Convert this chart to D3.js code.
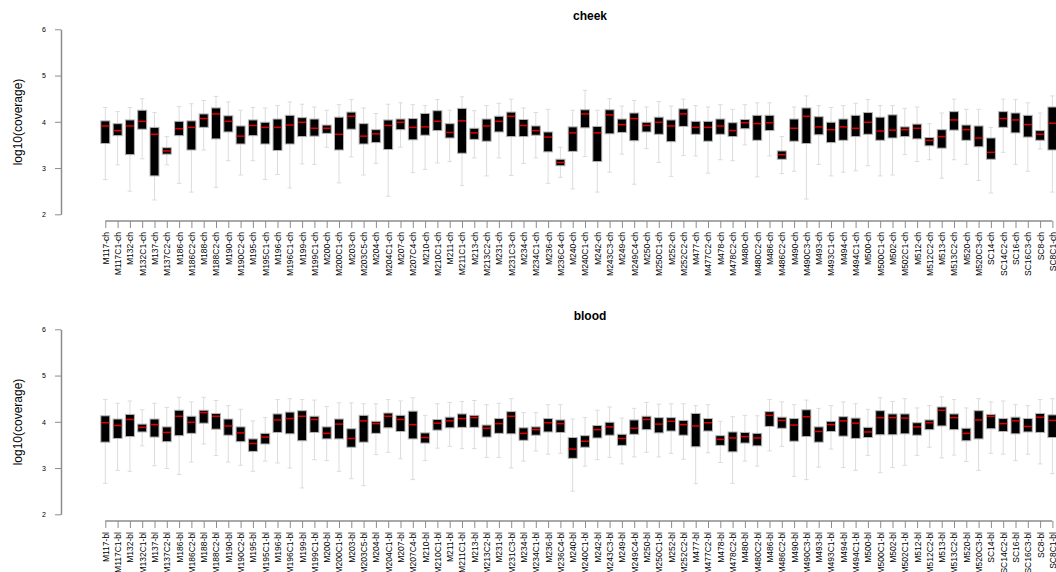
<!DOCTYPE html>
<html>
<head>
<meta charset="utf-8">
<script src="https://cdn.jsdelivr.net/npm/d3@7"></script>
<style>
  body { margin: 0; background: #fff; }
  svg { display: block; font-family: "Liberation Sans", Arial, sans-serif; }
</style>
</head>
<body>
<svg id="chart" width="1056" height="572"></svg>
<script>
// Sample identifiers (suffix added per tissue panel)
const samples = [
  "M117","M117C1","M132","M132C1","M137","M137C2","M186","M186C2","M188","M188C2",
  "M190","M190C2","M195","M195C1","M196","M196C1","M199","M199C1","M200","M200C1",
  "M203","M203C5","M204","M204C1","M207","M207C4","M210","M210C1","M211","M211C1",
  "M213","M213C2","M231","M231C3","M234","M234C1","M236","M236C4","M240","M240C1",
  "M242","M243C3","M249","M249C4","M250","M250C1","M252","M252C2","M477","M477C2",
  "M478","M478C2","M480","M480C2","M486","M486C2","M490","M490C3","M493","M493C1",
  "M494","M494C1","M500","M500C1","M502","M502C1","M512","M512C2","M513","M513C2",
  "M520","M520C3","SC14","SC14C2","SC16","SC16C3","SC8","SC8C1"
];

const yTicks = [2, 3, 4, 5, 6];

// cheek: log10(coverage) five-number summaries
const cheekHigh = [4.31,4.22,4.31,4.50,4.20,3.68,4.33,4.39,4.46,4.55,4.43,4.25,4.31,4.30,4.35,4.43,4.38,4.32,4.25,4.37,
  4.48,4.30,4.18,4.38,4.41,4.37,4.35,4.48,4.25,4.54,4.24,4.35,4.40,4.49,4.30,4.20,4.27,3.45,4.25,4.68,
  4.25,4.50,4.34,4.46,4.32,4.44,4.34,4.49,4.35,4.32,4.37,4.27,4.37,4.41,4.41,3.68,4.32,4.56,4.35,4.31,
  4.35,4.40,4.48,4.35,4.35,4.29,4.32,3.96,4.19,4.49,4.27,4.27,3.88,4.49,4.48,4.41,4.19,4.56];
const cheekQ3 = [4.02,3.96,4.04,4.25,3.88,3.44,4.01,4.02,4.17,4.30,4.13,3.91,4.04,3.99,4.06,4.14,4.09,4.06,3.93,4.10,
  4.21,3.96,3.83,4.04,4.06,4.07,4.18,4.24,3.96,4.29,3.86,4.06,4.12,4.21,4.05,3.91,3.78,3.19,3.89,4.26,
  3.90,4.26,4.06,4.19,3.99,4.10,4.04,4.28,4.01,4.01,4.06,3.98,4.05,4.14,4.14,3.37,4.06,4.30,4.11,3.99,
  4.06,4.14,4.20,4.10,4.15,3.89,3.95,3.66,3.83,4.22,3.93,3.91,3.65,4.22,4.19,4.14,3.81,4.32];
const cheekMed = [3.91,3.81,3.91,4.01,3.73,3.37,3.85,3.88,4.07,4.17,4.01,3.69,3.92,3.88,3.88,3.93,3.99,3.86,3.86,3.73,
  4.12,3.69,3.74,3.92,3.99,3.88,3.89,4.01,3.77,4.02,3.76,3.91,4.01,4.12,3.92,3.81,3.67,3.12,3.76,4.17,
  3.76,4.15,3.94,4.07,3.92,3.99,3.91,4.17,3.88,3.88,3.91,3.81,3.98,3.96,3.98,3.29,3.86,4.12,3.89,3.83,
  3.89,3.86,3.99,3.80,3.82,3.83,3.86,3.60,3.68,4.04,3.83,3.65,3.34,4.07,4.04,3.94,3.73,3.97];
const cheekQ1 = [3.53,3.70,3.29,3.84,2.83,3.30,3.70,3.39,3.88,3.63,3.78,3.52,3.70,3.52,3.38,3.52,3.68,3.69,3.75,3.39,
  3.84,3.52,3.55,3.40,3.83,3.61,3.71,3.81,3.65,3.32,3.62,3.58,3.78,3.68,3.68,3.71,3.35,3.05,3.36,3.87,
  3.14,3.74,3.77,3.59,3.78,3.73,3.57,3.90,3.73,3.58,3.73,3.68,3.85,3.60,3.81,3.19,3.58,3.53,3.72,3.55,
  3.60,3.68,3.73,3.60,3.65,3.68,3.63,3.48,3.43,3.82,3.60,3.46,3.19,3.88,3.76,3.67,3.60,3.39];
const cheekLow = [2.75,3.07,2.50,3.20,2.31,3.07,2.67,2.48,3.39,2.58,3.16,2.85,3.16,2.75,2.86,2.57,3.09,3.08,3.45,2.68,
  3.24,2.85,3.10,2.39,3.45,2.90,2.97,3.11,3.14,2.62,3.22,2.83,3.22,2.84,3.10,3.22,2.67,2.80,2.55,3.25,
  2.48,2.91,3.30,2.65,3.42,3.12,2.82,3.27,3.26,2.89,3.18,3.16,3.50,2.81,3.26,2.88,2.93,2.33,3.08,2.83,
  2.91,2.94,3.05,2.83,2.85,3.29,3.14,3.18,2.78,3.18,3.08,2.73,2.46,3.34,3.08,2.93,3.41,2.48];

// blood: log10(coverage) five-number summaries
const bloodHigh = [4.48,4.40,4.45,4.26,4.40,4.31,4.53,4.43,4.53,4.46,4.35,4.27,4.02,4.09,4.48,4.50,4.48,4.47,4.33,4.41,
  4.41,4.39,4.39,4.48,4.45,4.52,4.14,4.39,4.42,4.44,4.46,4.37,4.40,4.50,4.20,4.20,4.37,4.37,4.06,4.09,
  4.25,4.32,4.08,4.29,4.42,4.38,4.39,4.39,4.35,4.37,4.01,4.11,4.14,4.13,4.48,4.43,4.37,4.47,4.29,4.35,
  4.43,4.39,4.27,4.52,4.44,4.50,4.30,4.35,4.54,4.48,4.30,4.50,4.43,4.45,4.37,4.35,4.48,4.50];
const bloodQ3 = [4.13,4.06,4.16,3.95,4.06,3.89,4.25,4.12,4.25,4.18,4.06,3.89,3.63,3.75,4.17,4.21,4.24,4.12,3.89,4.06,
  3.85,4.14,4.01,4.19,4.14,4.23,3.76,4.05,4.10,4.17,4.14,3.93,4.07,4.22,3.87,3.89,4.07,4.04,3.66,3.70,
  3.92,3.99,3.73,4.04,4.12,4.09,4.09,4.03,4.18,4.07,3.70,3.78,3.77,3.75,4.22,4.10,4.07,4.26,3.89,4.01,
  4.11,4.08,3.88,4.24,4.17,4.17,3.98,4.04,4.32,4.17,3.86,4.24,4.16,4.07,4.10,4.07,4.18,4.15];
const bloodMed = [3.98,3.92,4.05,3.88,3.94,3.77,4.12,3.99,4.20,4.12,3.91,3.76,3.53,3.67,4.04,4.07,4.12,4.05,3.75,3.95,
  3.64,4.02,3.96,4.12,4.05,3.94,3.66,3.97,4.02,4.07,4.09,3.86,3.96,4.12,3.75,3.83,3.98,3.96,3.41,3.58,
  3.83,3.89,3.64,3.86,4.05,3.95,4.01,3.94,3.91,3.98,3.62,3.65,3.68,3.65,4.14,4.03,3.93,4.11,3.79,3.94,
  4.02,3.97,3.78,4.09,4.09,4.08,3.89,3.98,4.25,4.09,3.75,4.04,4.12,3.96,4.02,3.90,4.10,4.03];
const bloodQ1 = [3.56,3.64,3.68,3.78,3.67,3.57,3.70,3.75,3.97,3.84,3.71,3.57,3.36,3.52,3.77,3.74,3.59,3.77,3.63,3.63,
  3.45,3.56,3.75,3.87,3.79,3.63,3.54,3.82,3.87,3.88,3.88,3.67,3.75,3.74,3.60,3.71,3.78,3.77,3.21,3.45,
  3.65,3.71,3.49,3.73,3.83,3.76,3.80,3.71,3.46,3.80,3.49,3.35,3.54,3.48,3.90,3.86,3.58,3.68,3.56,3.79,
  3.69,3.64,3.66,3.72,3.72,3.74,3.71,3.83,3.91,3.83,3.59,3.63,3.85,3.79,3.74,3.78,3.77,3.66];
const bloodLow = [2.67,2.95,2.93,3.48,3.05,2.99,2.86,3.13,3.52,3.27,3.13,3.06,2.93,3.15,3.11,3.00,2.57,3.18,3.16,2.93,
  2.77,2.62,3.29,3.34,3.20,2.75,3.16,3.43,3.47,3.42,3.42,3.23,3.23,3.00,3.15,3.37,3.30,3.32,2.50,3.04,
  3.18,3.23,3.09,3.24,3.34,3.24,3.32,3.19,2.66,3.33,3.12,2.67,3.15,3.04,3.37,3.47,2.82,2.75,3.02,3.41,
  3.01,2.95,3.27,2.90,3.01,3.06,3.27,3.45,3.22,3.28,3.14,2.95,3.32,3.30,3.16,3.30,3.09,2.88];

const panels = [
  { title: "cheek", suffix: "-ch", top: 0,   low: cheekLow, q1: cheekQ1, med: cheekMed, q3: cheekQ3, high: cheekHigh },
  { title: "blood", suffix: "-bl", top: 300, low: bloodLow, q1: bloodQ1, med: bloodMed, q3: bloodQ3, high: bloodHigh }
];

const svg = d3.select("#chart");
const axisCol = "#8c8c8c";
const boxW = 9, capW = 4.5;

panels.forEach(p => {
  const g = svg.append("g").attr("transform", `translate(0,${p.top})`);
  const labels = samples.map(s => s + p.suffix);

  const y = d3.scaleLinear().domain([2, 6]).range([214.3, 29.3]);
  const x = d3.scalePoint().domain(labels).range([99.15, 1058.55]).padding(0.5);

  const rows = labels.map((lab, i) => ({
    lab, low: p.low[i], q1: p.q1[i], med: p.med[i], q3: p.q3[i], high: p.high[i]
  }));

  // title
  g.append("text").attr("x", 590).attr("y", 20)
    .attr("text-anchor", "middle").attr("font-size", 12).attr("font-weight", "bold")
    .text(p.title);

  // y axis label
  g.append("text").attr("transform", "translate(22,122) rotate(-90)")
    .attr("text-anchor", "middle").attr("font-size", 12)
    .text("log10(coverage)");

  // y axis
  const ya = g.append("g").attr("transform", "translate(61,0)")
    .call(d3.axisLeft(y).tickValues(yTicks).tickFormat(d3.format("d"))
      .tickSize(6).tickSizeOuter(0).tickPadding(9));
  ya.select(".domain").attr("stroke", axisCol).attr("stroke-width", 1.5);
  ya.selectAll(".tick line").attr("stroke", axisCol);
  ya.selectAll(".tick text").attr("font-size", 7).attr("fill", "#000")
    .attr("font-family", "Liberation Sans, Arial, sans-serif");

  // x axis
  const xa = g.append("g").attr("transform", "translate(0,221)")
    .call(d3.axisBottom(x).tickSize(7).tickSizeOuter(0).tickPadding(0));
  xa.select(".domain").remove();
  xa.append("line")
    .attr("x1", x(labels[0])).attr("x2", x(labels[labels.length - 1]))
    .attr("stroke", axisCol).attr("stroke-width", 1.5);
  xa.selectAll(".tick line").attr("stroke", axisCol);
  xa.selectAll(".tick text")
    .attr("font-size", 8.5).attr("fill", "#000")
    .attr("font-family", "Liberation Sans, Arial, sans-serif")
    .attr("text-anchor", "end").attr("dy", "0.35em")
    .attr("transform", "translate(0,11) rotate(-90)")
    .attr("x", 0).attr("y", 0);

  const bx = g.append("g");
  // whiskers and caps
  const wh = bx.selectAll("g.wh").data(rows).enter().append("g").attr("class", "wh")
    .attr("stroke", "#dcdcdc").attr("stroke-width", 1);
  wh.append("line").attr("x1", d => x(d.lab)).attr("x2", d => x(d.lab))
    .attr("y1", d => y(d.q3)).attr("y2", d => y(d.high));
  wh.append("line").attr("x1", d => x(d.lab)).attr("x2", d => x(d.lab))
    .attr("y1", d => y(d.q1)).attr("y2", d => y(d.low));
  wh.append("line").attr("x1", d => x(d.lab) - capW / 2).attr("x2", d => x(d.lab) + capW / 2)
    .attr("y1", d => y(d.high)).attr("y2", d => y(d.high));
  wh.append("line").attr("x1", d => x(d.lab) - capW / 2).attr("x2", d => x(d.lab) + capW / 2)
    .attr("y1", d => y(d.low)).attr("y2", d => y(d.low));

  // boxes
  bx.selectAll("rect.box").data(rows).enter().append("rect").attr("class", "box")
    .attr("x", d => x(d.lab) - boxW / 2).attr("width", boxW)
    .attr("y", d => y(d.q3)).attr("height", d => y(d.q1) - y(d.q3))
    .attr("fill", "#000").attr("stroke", "#b4b4b4").attr("stroke-width", 1);

  // medians
  bx.selectAll("line.med").data(rows).enter().append("line").attr("class", "med")
    .attr("x1", d => x(d.lab) - boxW / 2 + 0.5).attr("x2", d => x(d.lab) + boxW / 2 - 0.5)
    .attr("y1", d => y(d.med)).attr("y2", d => y(d.med))
    .attr("stroke", "#e00000").attr("stroke-width", 1.5);
});
</script>
</body>
</html>
